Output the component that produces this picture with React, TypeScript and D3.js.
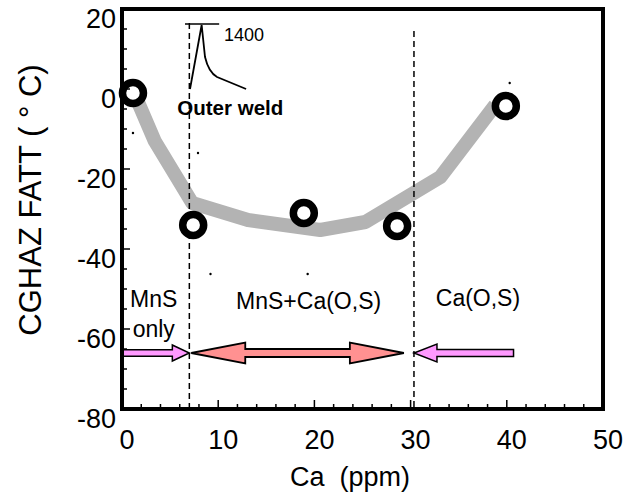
import React from "react";
import * as d3 from "d3";

const caPoints = [1.14, 7.4, 18.9, 28.6, 39.9];
const fattPoints = [-1, -34, -31, -34.25, -4.25];

const curveCa = [1.35, 3.4, 7.3, 13.1, 20.6, 25.3, 33.1, 38.8];
const curveFatt = [-1.5, -13, -28.5, -32.75, -35.25, -33.25, -22, -4];

const dotCa = [1.14, 7.9, 40.3, 9.2, 19.3];
const dotFatt = [-11, -16, 1.5, -46.25, -46.25];

const xTicks = [0, 10, 20, 30, 40, 50];
const yTicks = [20, 0, -20, -40, -60, -80];

const boundaries = [7.0, 30.35];
const boundaryTop = [16.5, 14.5];

const regionLabels = [
  { lines: ["MnS", "only"], ca: 3.3, fatt: -52.5 },
  { lines: ["MnS+Ca(O,S)"], ca: 19.4, fatt: -53 },
  { lines: ["Ca(O,S)"], ca: 37.0, fatt: -52.3 },
];

// inset thermal cycle (in data units)
const insetCa = [7.07, 8.28, 8.63, 9.88, 12.9];
const insetFatt = [0, 16, 8, 3, 0];
const insetBar = [6.55, 10.1, 16.25];

const W = 643, H = 497;

export default function App() {
  const x = d3.scaleLinear().domain([0, 50]).range([122, 603]);
  const y = d3.scaleLinear().domain([-80, 20]).range([409, 9]);

  const curveData = curveCa.map((c, i) => [x(c), y(curveFatt[i])] as [number, number]);
  const line = d3.line();

  const insetData = insetCa.map((c, i) => [x(c), y(insetFatt[i])] as [number, number]);

  const ay = y(-66);

  const arrowRight = (x0: number, x1: number, shaft: number, head: number, hl: number) => {
    const s = shaft / 2, h = head / 2;
    return `M${x0},${ay - s}L${x1 - hl},${ay - s}L${x1 - hl},${ay - h}L${x1},${ay}L${x1 - hl},${ay + h}L${x1 - hl},${ay + s}L${x0},${ay + s}Z`;
  };
  const arrowLeft = (x0: number, x1: number, shaft: number, head: number, hl: number) => {
    const s = shaft / 2, h = head / 2;
    return `M${x1},${ay - s}L${x0 + hl},${ay - s}L${x0 + hl},${ay - h}L${x0},${ay}L${x0 + hl},${ay + h}L${x0 + hl},${ay + s}L${x1},${ay + s}Z`;
  };
  const arrowDouble = (x0: number, x1: number, shaft: number, head: number, hl: number) => {
    const s = shaft / 2, h = head / 2;
    return `M${x0},${ay}L${x0 + hl},${ay - h}L${x0 + hl},${ay - s}L${x1 - hl},${ay - s}L${x1 - hl},${ay - h}L${x1},${ay}L${x1 - hl},${ay + h}L${x1 - hl},${ay + s}L${x0 + hl},${ay + s}L${x0 + hl},${ay + h}Z`;
  };

  const xMinor = d3.range(0, 51, 2);
  const yMinor = d3.range(-80, 21, 5);

  const font = "Liberation Sans, Arial, sans-serif";

  return (
    <svg width={W} height={H} style={{ position: "absolute", left: 0, top: 0, background: "#fff" }} fontFamily={font}>
      <rect x={0} y={0} width={W} height={H} fill="#fff" />
      {/* gray curve */}
      <path d={line(curveData) || ""} fill="none" stroke="#b3b3b3" strokeWidth={14} strokeLinejoin="round" />

      {/* dashed boundaries */}
      {boundaries.map((b, i) => (
        <line key={i} x1={x(b)} x2={x(b)} y1={y(boundaryTop[i])} y2={y(-80)} stroke="#000" strokeWidth={1.5} strokeDasharray="6,4" />
      ))}

      {/* inset */}
      <line x1={x(insetBar[0])} x2={x(insetBar[1])} y1={y(insetBar[2])} y2={y(insetBar[2])} stroke="#000" strokeWidth={1.5} />
      <path d={`M${insetData[0][0]},${insetData[0][1]}L${insetData[1][0]},${insetData[1][1]}L${insetData[2][0]},${insetData[2][1]}Q${x(9.0)},${y(4.2)} ${insetData[3][0]},${insetData[3][1]}L${insetData[4][0]},${insetData[4][1]}`} fill="none" stroke="#000" strokeWidth={1.8} />
      <text x={x(10.6)} y={y(13.5)} fontSize={18} dominantBaseline="central">1400</text>
      <text x={x(5.75)} y={y(-4.5)} fontSize={20.5} fontWeight="bold" dominantBaseline="central">Outer weld</text>

      {/* stray dots */}
      {dotCa.map((c, i) => (
        <circle key={i} cx={x(c)} cy={y(dotFatt[i])} r={1.2} fill="#000" />
      ))}

      {/* arrows */}
      <path d={arrowRight(x(0), x(7.0), 6.5, 16, 17)} fill="#ff99ff" stroke="#000" strokeWidth={1.5} strokeLinejoin="miter" />
      <path d={arrowDouble(x(7.2), x(29.3), 8, 21, 54)} fill="#ff9191" stroke="#000" strokeWidth={1.8} strokeLinejoin="miter" />
      <path d={arrowLeft(x(30.35), x(40.7), 7, 18, 23)} fill="#ff99ff" stroke="#000" strokeWidth={1.5} strokeLinejoin="miter" />

      {/* region labels */}
      {regionLabels.map((r, i) => (
        <text key={i} x={x(r.ca)} y={y(r.fatt)} fontSize={23} textAnchor="middle" dominantBaseline="central">
          {r.lines.map((l, j) => (
            <tspan key={j} x={x(r.ca)} dy={j === 0 ? 0 : 30}>{l}</tspan>
          ))}
        </text>
      ))}

      {/* data points */}
      {caPoints.map((c, i) => (
        <circle key={i} cx={x(c)} cy={y(fattPoints[i])} r={10.5} fill="#fff" stroke="#000" strokeWidth={7.5} />
      ))}

      {/* ticks */}
      {xMinor.map((v) => (
        <line key={"xm" + v} x1={x(v)} x2={x(v)} y1={y(-80)} y2={y(-80) - (v % 10 === 0 ? 9 : 5)} stroke="#000" strokeWidth={1.5} />
      ))}
      {yMinor.map((v) => (
        <line key={"ym" + v} x1={x(0)} x2={x(0) + (v % 20 === 0 ? 8 : 5)} y1={y(v)} y2={y(v)} stroke="#000" strokeWidth={1.5} />
      ))}

      {/* frame */}
      <rect x={x(0)} y={y(20)} width={x(50) - x(0)} height={y(-80) - y(20)} fill="none" stroke="#000" strokeWidth={4} />

      {/* tick labels */}
      {xTicks.map((v) => (
        <text key={"xl" + v} x={x(v) + 5} y={y(-80) + 31} fontSize={27} textAnchor="middle" dominantBaseline="central">{v}</text>
      ))}
      {yTicks.map((v) => (
        <text key={"yl" + v} x={116} y={y(v) + 10} fontSize={27} textAnchor="end" dominantBaseline="central">{v}</text>
      ))}

      <text x={350} y={477} fontSize={27} textAnchor="middle" dominantBaseline="central" style={{ whiteSpace: "pre" }}>{"Ca  (ppm)"}</text>
      <text transform={`translate(30,200) rotate(-90)`} fontSize={31} textAnchor="middle" dominantBaseline="central" style={{ whiteSpace: "pre" }}>{"CGHAZ FATT ( ° C)"}</text>
    </svg>
  );
}
